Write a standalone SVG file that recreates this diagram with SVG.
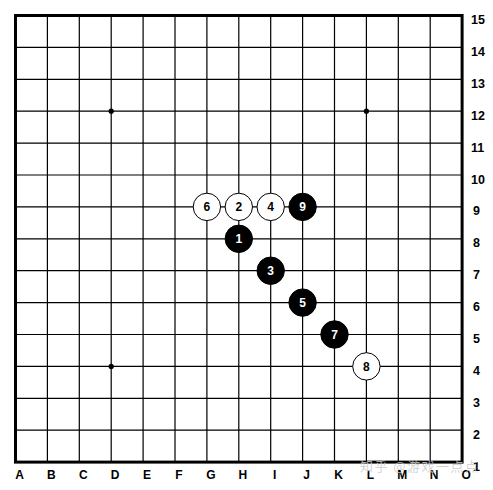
<svg xmlns="http://www.w3.org/2000/svg" width="493" height="490" viewBox="0 0 493 490">
<style>
.g{stroke:#000;stroke-width:1.2;fill:none}
.b{stroke:#000;stroke-width:3;fill:none}
.lbl{font-family:"Liberation Sans",Arial,sans-serif;font-weight:bold;font-size:12.5px;fill:#000}
.col{text-anchor:middle;font-size:12px}
.bs{fill:#000;stroke:#000;stroke-width:1}
.ws{fill:#fff;stroke:#000;stroke-width:1}
.bt{font-family:"Liberation Sans",Arial,sans-serif;font-weight:bold;font-size:12px;text-anchor:middle;fill:#fff}
.wt{font-family:"Liberation Sans",Arial,sans-serif;font-weight:bold;font-size:12px;text-anchor:middle;fill:#000}
</style>
<rect width="493" height="490" fill="#fff"/>
<g id="board">
<path class="g" d="M47.4 15.5V462.1M79.3 15.5V462.1M111.2 15.5V462.1M143.1 15.5V462.1M175 15.5V462.1M206.9 15.5V462.1M238.8 15.5V462.1M270.7 15.5V462.1M302.6 15.5V462.1M334.5 15.5V462.1M366.4 15.5V462.1M398.3 15.5V462.1M430.2 15.5V462.1"/>
<path class="g" d="M15.5 47.4H462.1M15.5 79.3H462.1M15.5 111.2H462.1M15.5 143.1H462.1M15.5 175H462.1M15.5 206.9H462.1M15.5 238.8H462.1M15.5 270.7H462.1M15.5 302.6H462.1M15.5 334.5H462.1M15.5 366.4H462.1M15.5 398.3H462.1M15.5 430.2H462.1"/>
<rect class="b" x="15.5" y="15.5" width="446.6" height="446.6"/>
<circle cx="111.2" cy="111.2" r="2.6"/>
<circle cx="366.4" cy="111.2" r="2.6"/>
<circle cx="111.2" cy="366.4" r="2.6"/>
</g>
<g id="rows" class="lbl">
<text x="471" y="24">15</text>
<text x="471" y="56">14</text>
<text x="471" y="88">13</text>
<text x="471" y="120">12</text>
<text x="471" y="152">11</text>
<text x="471" y="184">10</text>
<text x="473" y="215">9</text>
<text x="473" y="247">8</text>
<text x="473" y="279">7</text>
<text x="473" y="311">6</text>
<text x="473" y="343">5</text>
<text x="473" y="375">4</text>
<text x="473" y="407">3</text>
<text x="473" y="439">2</text>
<text x="473" y="471">1</text>
</g>
<g id="cols" class="lbl col">
<text x="19.5" y="479">A</text>
<text x="51.4" y="479">B</text>
<text x="83.3" y="479">C</text>
<text x="115.2" y="479">D</text>
<text x="147.1" y="479">E</text>
<text x="179" y="479">F</text>
<text x="210.9" y="479">G</text>
<text x="242.8" y="479">H</text>
<text x="274.7" y="479">I</text>
<text x="306.6" y="479">J</text>
<text x="338.5" y="479">K</text>
<text x="370.4" y="479">L</text>
<text x="402.3" y="479">M</text>
<text x="434.2" y="479">N</text>
<text x="466.1" y="479">O</text>
</g>
<g id="s1"><circle class="bs" cx="238.8" cy="238.8" r="13.7"/><text class="bt" x="238.8" y="243">1</text></g>
<g id="s2"><circle class="ws" cx="238.8" cy="206.9" r="13.7"/><text class="wt" x="238.8" y="211.1">2</text></g>
<g id="s3"><circle class="bs" cx="270.7" cy="270.7" r="13.7"/><text class="bt" x="270.7" y="274.9">3</text></g>
<g id="s4"><circle class="ws" cx="270.7" cy="206.9" r="13.7"/><text class="wt" x="270.7" y="211.1">4</text></g>
<g id="s5"><circle class="bs" cx="302.6" cy="302.6" r="13.7"/><text class="bt" x="302.6" y="306.8">5</text></g>
<g id="s6"><circle class="ws" cx="206.9" cy="206.9" r="13.7"/><text class="wt" x="206.9" y="211.1">6</text></g>
<g id="s7"><circle class="bs" cx="334.5" cy="334.5" r="13.7"/><text class="bt" x="334.5" y="338.7">7</text></g>
<g id="s8"><circle class="ws" cx="366.4" cy="366.4" r="13.7"/><text class="wt" x="366.4" y="370.6">8</text></g>
<g id="s9"><circle class="bs" cx="302.6" cy="206.9" r="13.7"/><text class="bt" x="302.6" y="211.1">9</text></g>
<text x="360" y="471" font-family="'Noto Sans CJK SC',sans-serif" font-size="13" fill="#ccc" fill-opacity="0.85" textLength="118">知乎 @游戏一点点</text>
</svg>
